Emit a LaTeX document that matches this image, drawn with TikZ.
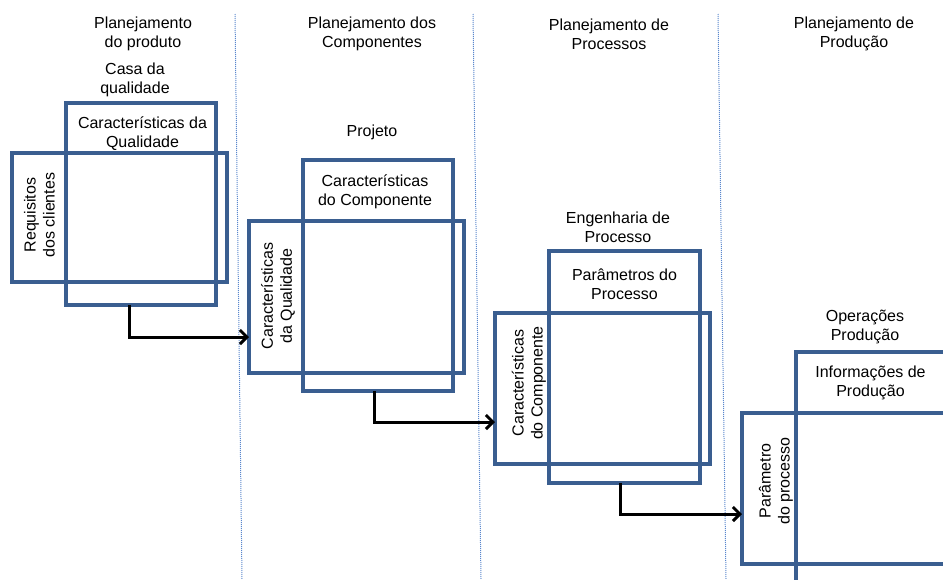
\documentclass[tikz,border=0pt]{standalone}
\usepackage{fontspec}
\setmainfont{Liberation Sans}
\usetikzlibrary{arrows.meta}
\definecolor{boxblue}{RGB}{58,94,144}
\definecolor{divblue}{RGB}{90,135,205}
\begin{document}
\begin{tikzpicture}[x=1pt,y=-1pt,
  box/.style={draw=boxblue, line width=3.6pt, inner sep=0pt, outer sep=0pt, rectangle},
  label/.style={align=center, inner sep=0pt, font=\fontsize{16}{19}\selectfont},
  vlabel/.style={label, rotate=90},
  flow/.style={draw=black, line width=3pt, -{Straight Barb[length=7pt,width=14pt,line width=3pt]}},
  divider/.style={draw=divblue, line width=1pt, densely dotted}]
\path[use as bounding box, clip] (0,0) rectangle (943,579);

% column separators
\draw[divider] (235,14) -- (242,579);
\draw[divider] (473,14) -- (481,579);
\draw[divider] (718,14) -- (726,579);

% column headings
\node[label] (h1) at (143,33.8) {Planejamento\\do produto};
\node[label] (h2) at (372,33.8) {Planejamento dos\\Componentes};
\node[label] (h3) at (609,33.8) {Planejamento de\\Processos};
\node[label] (h4) at (854,33.8) {Planejamento de\\Produção};

% matrix 1: house of quality
\node[box, minimum width=150pt, minimum height=202pt] (top1) at (141,204) {};
\node[box, minimum width=215pt, minimum height=129pt] (left1) at (119.5,217.5) {};
\node[label] (n1) at (135,79.5) {Casa da\\qualidade};
\node[label] (c1) at (142.5,133.8) {Características da\\Qualidade};
\node[vlabel] (r1) at (39.5,215) {Requisitos\\dos clientes};

% matrix 2: component design
\node[box, minimum width=150pt, minimum height=231pt] (top2) at (378,275.5) {};
\node[box, minimum width=215pt, minimum height=152pt] (left2) at (356.5,297) {};
\node[label, anchor=base] (n2) at (372,136) {Projeto};
\node[label] (c2) at (375,191.5) {Características\\do Componente};
\node[vlabel] (r2) at (278,296) {Características\\da Qualidade};

% matrix 3: process engineering
\node[box, minimum width=151pt, minimum height=232pt] (top3) at (624.5,367) {};
\node[box, minimum width=215pt, minimum height=151pt] (left3) at (602.5,388.5) {};
\node[label] (n3) at (618,227) {Engenharia de\\Processo};
\node[label] (c3) at (624.5,284) {Parâmetros do\\Processo};
\node[vlabel] (r3) at (529,383) {Características\\do Componente};

% matrix 4: production operations
\node[box, minimum width=180pt, minimum height=280pt] (top4) at (886,492) {};
\node[box, minimum width=230pt, minimum height=151pt] (left4) at (857,488.5) {};
\node[label] (n4) at (865,326.5) {Operações\\Produção};
\node[label] (c4) at (870.5,383) {Informações de\\Produção};
\node[vlabel] (r4) at (776,481) {Parâmetro\\do processo};

% deployment arrows
\draw[flow] ([xshift=-12pt]top1.south) |- ([yshift=-40pt]left2.west);
\draw[flow] ([xshift=-4pt]top2.south) |- ([yshift=-33.5pt]left3.west);
\draw[flow] ([xshift=-4.5pt]top3.south) |- ([yshift=-25.5pt]left4.west);
\end{tikzpicture}
\end{document}
